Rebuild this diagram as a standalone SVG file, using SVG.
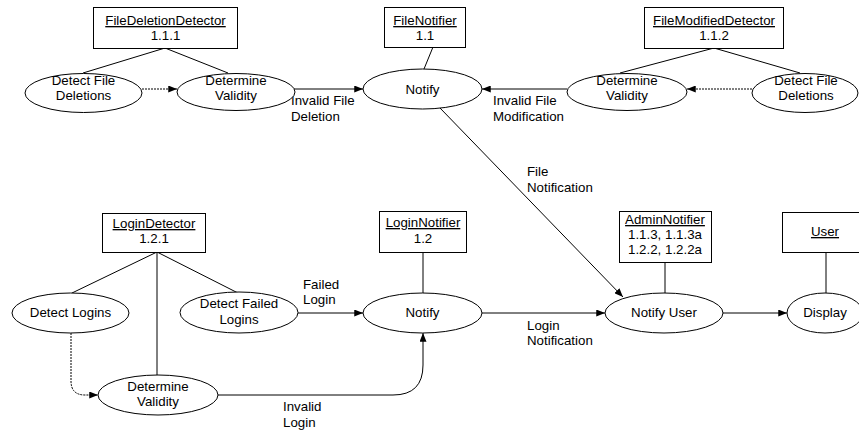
<svg xmlns="http://www.w3.org/2000/svg" width="859" height="430" viewBox="0 0 859 430">
  <style>
    text { font-family: "Liberation Sans", Arial, sans-serif; font-size: 13.3px; fill: #000; }
    .c { text-anchor: middle; }
    .u { text-decoration: underline; }
    .box { fill: #fff; stroke: #000; stroke-width: 1; }
    .proc { fill: #fff; stroke: #000; stroke-width: 1; }
    .link { fill: none; stroke: #000; stroke-width: 1; }
    .flow { fill: none; stroke: #000; stroke-width: 1; marker-end: url(#arrow); }
    .dot { fill: none; stroke: #000; stroke-width: 1; stroke-dasharray: 2 1; marker-end: url(#arrow); }
  </style>
  <defs>
    <marker id="arrow" viewBox="0 0 10 8" refX="10" refY="4" markerWidth="9" markerHeight="7" markerUnits="userSpaceOnUse" orient="auto">
      <path d="M0,0 L10,4 L0,8 Z" fill="#000"/>
    </marker>
  </defs>
  <rect width="859" height="430" fill="#fff"/>

  <!-- connectors -->
  <g id="connectors">
    <!-- object-to-process associations -->
    <line class="link" x1="165" y1="48" x2="83" y2="73"/>
    <line class="link" x1="165" y1="48" x2="228" y2="73"/>
    <line class="link" x1="433" y1="47" x2="424" y2="69"/>
    <line class="link" x1="714" y1="48" x2="620" y2="73"/>
    <line class="link" x1="714" y1="48" x2="800" y2="73"/>
    <line class="link" x1="157" y1="252" x2="72" y2="293"/>
    <line class="link" x1="157" y1="252" x2="157" y2="375"/>
    <line class="link" x1="157" y1="252" x2="238" y2="293"/>
    <line class="link" x1="423" y1="252" x2="423" y2="293"/>
    <line class="link" x1="665" y1="262" x2="665" y2="293"/>
    <line class="link" x1="826" y1="252" x2="826" y2="293"/>

    <!-- internal detector sequencing -->
    <line class="dot" x1="142" y1="89" x2="177" y2="89"/>
    <line class="dot" x1="752" y1="89" x2="687" y2="89"/>
    <path class="dot" d="M71,333 L71,381 Q71,395 85,395 L98,395"/>

    <!-- message flows -->
    <line class="flow" x1="294" y1="89" x2="363" y2="89"/>
    <line class="flow" x1="567" y1="89" x2="482" y2="89"/>
    <line class="flow" x1="440" y1="108" x2="623" y2="297"/>
    <line class="flow" x1="298" y1="313" x2="363" y2="313"/>
    <line class="flow" x1="482" y1="313" x2="605" y2="313"/>
    <path class="flow" d="M218,395 L393,395 Q423,395 423,365 L423,333"/>
    <line class="flow" x1="723" y1="313" x2="787" y2="313"/>

    <!-- flow labels -->
    <text x="291" y="105">Invalid File</text>
    <text x="291" y="121">Deletion</text>
    <text x="493" y="105">Invalid File</text>
    <text x="493" y="121">Modification</text>
    <text x="527" y="176">File</text>
    <text x="527" y="192">Notification</text>
    <text x="303" y="289">Failed</text>
    <text x="303" y="304">Login</text>
    <text x="527" y="330">Login</text>
    <text x="527" y="345">Notification</text>
    <text x="283" y="411">Invalid</text>
    <text x="283" y="427">Login</text>
  </g>

  <!-- objects -->
  <g id="fileDeletionDetector">
    <rect class="box" x="93.5" y="7.5" width="144" height="41"/>
    <text class="c u" x="165.5" y="25">FileDeletionDetector</text>
    <text class="c" x="165.5" y="40">1.1.1</text>
  </g>
  <g id="fileNotifier">
    <rect class="box" x="384.5" y="7.5" width="81" height="40"/>
    <text class="c u" x="425" y="25">FileNotifier</text>
    <text class="c" x="425" y="40">1.1</text>
  </g>
  <g id="fileModifiedDetector">
    <rect class="box" x="644.5" y="7.5" width="139" height="41"/>
    <text class="c u" x="714" y="25">FileModifiedDetector</text>
    <text class="c" x="714" y="40">1.1.2</text>
  </g>
  <g id="loginDetector">
    <rect class="box" x="102.5" y="213.5" width="103" height="39"/>
    <text class="c u" x="154" y="228">LoginDetector</text>
    <text class="c" x="154" y="243">1.2.1</text>
  </g>
  <g id="loginNotifier">
    <rect class="box" x="379.5" y="211.5" width="87" height="41"/>
    <text class="c u" x="423" y="227">LoginNotifier</text>
    <text class="c" x="423" y="243">1.2</text>
  </g>
  <g id="adminNotifier">
    <rect class="box" x="619.5" y="211.5" width="92" height="51"/>
    <text class="c u" x="665" y="224">AdminNotifier</text>
    <text class="c" x="665" y="239">1.1.3, 1.1.3a</text>
    <text class="c" x="665" y="254">1.2.2, 1.2.2a</text>
  </g>
  <g id="user">
    <rect class="box" x="782.5" y="212.5" width="86" height="40"/>
    <text class="c u" x="825" y="236">User</text>
  </g>

  <!-- processes -->
  <g id="detectFileDeletionsA">
    <ellipse class="proc" cx="83.5" cy="93" rx="58.5" ry="19.5"/>
    <text class="c" x="83.5" y="85">Detect File</text>
    <text class="c" x="83.5" y="100">Deletions</text>
  </g>
  <g id="determineValidityA">
    <ellipse class="proc" cx="236" cy="92" rx="59" ry="18.5"/>
    <text class="c" x="236" y="85">Determine</text>
    <text class="c" x="236" y="100">Validity</text>
  </g>
  <g id="notifyFile">
    <ellipse class="proc" cx="422.5" cy="89" rx="59.5" ry="20"/>
    <text class="c" x="422.5" y="94">Notify</text>
  </g>
  <g id="determineValidityB">
    <ellipse class="proc" cx="627" cy="92" rx="60" ry="18.5"/>
    <text class="c" x="627" y="85">Determine</text>
    <text class="c" x="627" y="100">Validity</text>
  </g>
  <g id="detectFileDeletionsB">
    <ellipse class="proc" cx="805" cy="93" rx="53" ry="19.5"/>
    <text class="c" x="806" y="85">Detect File</text>
    <text class="c" x="806" y="100">Deletions</text>
  </g>
  <g id="detectLogins">
    <ellipse class="proc" cx="70.5" cy="313" rx="58.5" ry="20"/>
    <text class="c" x="70.5" y="317">Detect Logins</text>
  </g>
  <g id="detectFailedLogins">
    <ellipse class="proc" cx="239" cy="312.5" rx="59" ry="20.5"/>
    <text class="c" x="239" y="308">Detect Failed</text>
    <text class="c" x="239" y="324">Logins</text>
  </g>
  <g id="determineValidityLogin">
    <ellipse class="proc" cx="158" cy="395" rx="60" ry="20"/>
    <text class="c" x="158" y="391">Determine</text>
    <text class="c" x="158" y="406">Validity</text>
  </g>
  <g id="notifyLogin">
    <ellipse class="proc" cx="422.5" cy="313" rx="59.5" ry="20"/>
    <text class="c" x="422.5" y="317">Notify</text>
  </g>
  <g id="notifyUser">
    <ellipse class="proc" cx="664" cy="313" rx="59" ry="20"/>
    <text class="c" x="664" y="317">Notify User</text>
  </g>
  <g id="display">
    <ellipse class="proc" cx="825" cy="313" rx="38" ry="20"/>
    <text class="c" x="825" y="317">Display</text>
  </g>
</svg>
